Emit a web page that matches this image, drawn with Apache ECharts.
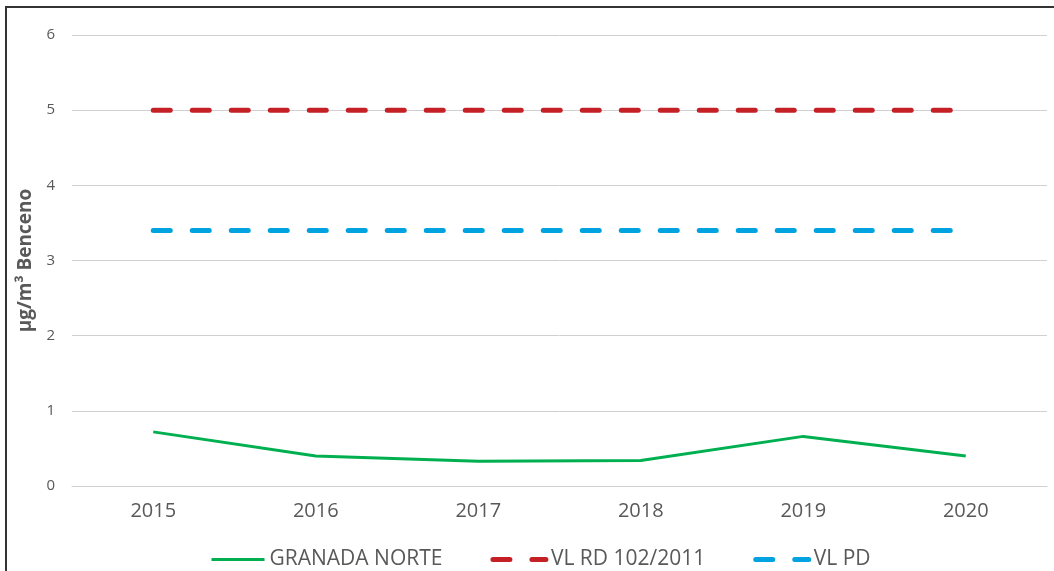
<!DOCTYPE html>
<html><head><meta charset="utf-8">
<script src="https://cdn.jsdelivr.net/npm/echarts@6/dist/echarts.min.js"></script>
<style>
html,body{margin:0;padding:0;background:#fff;}
#frame{position:absolute;left:5px;top:6px;width:1060px;height:600px;border-left:2px solid #333;border-top:2px solid #333;}
#c{position:absolute;left:0;top:0;width:1054px;height:571px;}
</style></head>
<body>
<div id="frame"></div>
<div id="c"></div>
<script>
const categories = ['2015','2016','2017','2018','2019','2020'];
const granadaNorte = [0.72, 0.40, 0.33, 0.34, 0.66, 0.40];
const vlRD = [5, 5, 5, 5, 5, 5];
const vlPD = [3.4, 3.4, 3.4, 3.4, 3.4, 3.4];
const yTicks = [0, 1, 2, 3, 4, 5, 6];
const seriesNames = ['GRANADA NORTE','VL RD 102/2011','VL PD'];
const colors = ['#00B050','#C42026','#00A2E0'];

const chart = echarts.init(document.getElementById('c'), null, {renderer:'canvas'});
const font = '"Open Sans", sans-serif';
chart.setOption({
  animation:false,
  backgroundColor:'transparent',
  grid:{left:72,right:7,top:35,bottom:85},
  xAxis:{
    type:'category', data:categories, boundaryGap:true,
    axisLine:{show:true,lineStyle:{color:'#d0d0d0',width:1}},
    axisTick:{show:false},
    axisLabel:{color:'#595959',fontSize:20,fontFamily:font,margin:15}
  },
  yAxis:{
    type:'value', min:yTicks[0], max:yTicks[yTicks.length-1], interval:1,
    name:'µg/m³ Benceno', nameLocation:'middle', nameGap:33,
    nameTextStyle:{color:'#595959',fontSize:19,fontWeight:'bold',fontFamily:font},
    axisLine:{show:false}, axisTick:{show:false},
    axisLabel:{color:'#595959',fontSize:15,fontFamily:font,margin:17},
    splitLine:{lineStyle:{color:'#d0d0d0',width:1}}
  },
  legend:{
    top:544, left:205, itemWidth:53, itemHeight:20, itemGap:48,
    textStyle:{color:'#595959',fontSize:21,fontFamily:font},
    itemStyle:{opacity:0},
    data:[
      {name:seriesNames[0], lineStyle:{width:3}},
      {name:seriesNames[1], lineStyle:{width:5}},
      {name:seriesNames[2], lineStyle:{width:5}}
    ]
  },
  series:[
    {name:seriesNames[0],type:'line',data:granadaNorte,showSymbol:false,symbol:'none',
     lineStyle:{color:colors[0],width:3},itemStyle:{color:colors[0]}},
    {name:seriesNames[1],type:'line',data:vlRD,showSymbol:false,symbol:'none',
     lineStyle:{color:colors[1],width:5,type:[17,22],cap:'round'},itemStyle:{color:colors[1]}},
    {name:seriesNames[2],type:'line',data:vlPD,showSymbol:false,symbol:'none',
     lineStyle:{color:colors[2],width:5,type:[17,22],cap:'round'},itemStyle:{color:colors[2]}}
  ]
});
</script>
</body></html>
